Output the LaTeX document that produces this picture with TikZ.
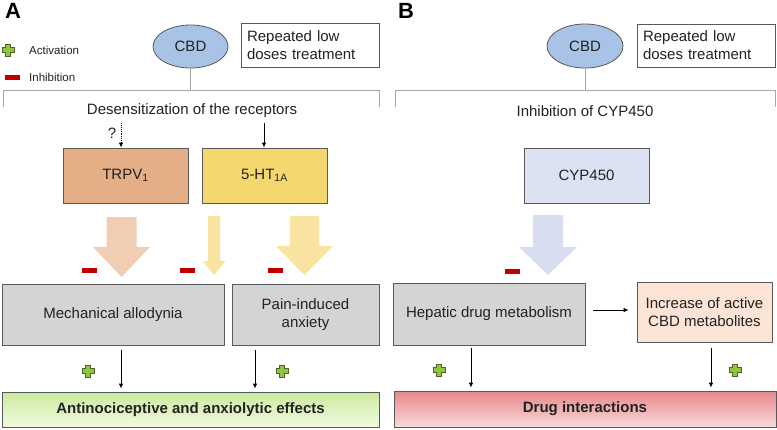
\documentclass[tikz,border=0pt]{standalone}
\usepackage{fontspec}
\setmainfont{Liberation Sans}
\usetikzlibrary{arrows.meta,shapes.geometric}
\definecolor{txt}{HTML}{222222}
\definecolor{bordc}{HTML}{595959}
\definecolor{brkc}{HTML}{A6A6A6}
\definecolor{cbdc}{HTML}{A9C3E6}
\definecolor{trpvc}{HTML}{E4AE86}
\definecolor{htc}{HTML}{F5D76F}
\definecolor{cypc}{HTML}{DCE2F1}
\definecolor{grayc}{HTML}{D4D4D4}
\definecolor{incc}{HTML}{FBE4D5}
\definecolor{trpvarr}{HTML}{F0CDB3}
\definecolor{htarr}{HTML}{F8E3A1}
\definecolor{cyparr}{HTML}{D8DEF0}
\definecolor{minusc}{HTML}{C00000}
\definecolor{plusc}{HTML}{8DC63F}
\definecolor{plusb}{HTML}{4F6228}
\definecolor{greentop}{HTML}{CBEA9E}
\definecolor{greenbot}{HTML}{F0F9E1}
\definecolor{redtop}{HTML}{E8878A}
\definecolor{redbot}{HTML}{F7D9D9}
\tikzset{
  base/.style={font=\fontsize{15}{18}\selectfont, text=txt, inner sep=0pt},
  box/.style={base, draw=bordc, line width=0.8pt, rectangle, align=center},
  oval/.style={base, ellipse, draw=bordc, line width=0.8pt, fill=cbdc},
  notebox/.style={base, draw=bordc, line width=0.8pt, rectangle, align=left, text width=126pt, inner xsep=6pt},
  lbl/.style={base},
  panel/.style={font=\fontsize{22}{24}\selectfont\bfseries, text=black, inner sep=0pt},
  legend/.style={font=\fontsize{11.5}{13}\selectfont, text=txt, inner sep=0pt, anchor=west},
  brk/.style={draw=brkc, line width=0.8pt},
  arr/.style={draw=black, line width=0.9pt, -{Latex[length=5pt,width=4.5pt]}},
  dotarr/.style={draw=black, line width=0.9pt, densely dotted, -{Latex[length=5pt,width=4.5pt]}},
  minussign/.style={fill=minusc},
  pics/plussign/.style={code={
    \filldraw[fill=plusc, draw=plusb, line width=0.7pt]
      (-2.3,-6) -- (2.3,-6) -- (2.3,-2.3) -- (6,-2.3) -- (6,2.3) -- (2.3,2.3) -- (2.3,6)
      -- (-2.3,6) -- (-2.3,2.3) -- (-6,2.3) -- (-6,-2.3) -- (-2.3,-2.3) -- cycle;}},
}
\begin{document}
\begin{tikzpicture}[x=1pt,y=-1pt]
\useasboundingbox (0,0) rectangle (777,429);

% ---------- Panel A ----------
\node[panel] (pa) at (13,11) {A};
\pic at (8,50) {plussign};
\node[legend] (act) at (29,50) {Activation};
\fill[minussign] (5,75) rectangle (20,80);
\node[legend] (inh) at (29,77) {Inhibition};

\node[oval, minimum width=75pt, minimum height=43pt] (cbdA) at (190.5,46.5) {CBD};
\node[notebox, minimum height=44pt] (repA) at (310,45) {Repeated low\\doses treatment};
\coordinate (brkA) at (190.5,90);
\draw[brk] (cbdA.south) -- (brkA);
\draw[brk] (3,107) -- (3,90) -- (379,90) -- (379,107);
\node[lbl] (desA) at (192,111) {Desensitization of the receptors};

\node[box, fill=trpvc, minimum width=125pt, minimum height=55pt] (trpv) at (125.5,175.5) {TRPV\textsubscript{1}};
\node[box, fill=htc, minimum width=125pt, minimum height=55pt] (ht) at (264.5,175.5) {5-HT\textsubscript{1A}};

\coordinate (qs) at (121,123);
\draw[dotarr] (qs) -- (qs |- trpv.north);
\node[lbl] (q) at (112,133) {?};
\coordinate (hs) at (264,123);
\draw[arr] (hs) -- (hs |- ht.north);

% block arrows
\fill[trpvarr] (106.5,217) -- (136.5,217) -- (136.5,247) -- (150,247) -- (121.5,277) -- (93,247) -- (106.5,247) -- cycle;
\fill[htarr] (208,216) -- (220,216) -- (220,261) -- (225.5,261) -- (214,275) -- (202.5,261) -- (208,261) -- cycle;
\fill[htarr] (290,216) -- (319,216) -- (319,246) -- (333,246) -- (304.5,275) -- (276,246) -- (290,246) -- cycle;

\fill[minussign] (82,268) rectangle (97,273);
\fill[minussign] (180,268) rectangle (195,273);
\fill[minussign] (268,268) rectangle (283,273);

\node[box, fill=grayc, minimum width=222pt, minimum height=61pt] (mech) at (113,314.5) {Mechanical allodynia};
\node[box, fill=grayc, minimum width=147pt, minimum height=61pt] (pain) at (305.5,314.5) {Pain-induced\\anxiety};

\node[box, draw=bordc, top color=greentop, bottom color=greenbot, minimum width=377pt, minimum height=35pt, font=\fontsize{15}{18}\selectfont\bfseries] (effA) at (190.5,409.5) {Antinociceptive and anxiolytic effects};

\coordinate (m1) at (121,345);
\draw[arr, shorten <=5pt, shorten >=3pt] (m1) -- (m1 |- effA.north);
\coordinate (m2) at (255,345);
\draw[arr, shorten <=5pt, shorten >=3pt] (m2) -- (m2 |- effA.north);
\pic at (88,371) {plussign};
\pic at (282,371) {plussign};

% ---------- Panel B ----------
\node[panel] (pb) at (406,11) {B};
\node[oval, minimum width=76pt, minimum height=44pt] (cbdB) at (585,46) {CBD};
\node[notebox, minimum height=43pt] (repB) at (706,45.5) {Repeated low\\doses treatment};
\coordinate (brkB) at (585,90);
\draw[brk] (cbdB.south) -- (brkB);
\draw[brk] (395,107) -- (395,90) -- (775,90) -- (775,107);
\node[lbl] (inhB) at (585,111) {Inhibition of CYP450};

\node[box, fill=cypc, minimum width=125pt, minimum height=55pt] (cyp) at (586.5,175.5) {CYP450};
\fill[cyparr] (533,215) -- (563,215) -- (563,247) -- (577,247) -- (548,275) -- (519,247) -- (533,247) -- cycle;
\fill[minussign] (505,269) rectangle (520,274);

\node[box, fill=grayc, minimum width=192pt, minimum height=62pt] (hep) at (489,314) {Hepatic drug metabolism};
\node[box, fill=incc, minimum width=135pt, minimum height=60pt] (inc) at (704.5,312) {Increase of active\\CBD metabolites};
\draw[arr, line width=0.7pt, shorten <=8pt, shorten >=8pt] (hep.east |- 0,310) -- (inc.west |- 0,310);

\node[box, draw=bordc, top color=redtop, bottom color=redbot, minimum width=382pt, minimum height=36pt, font=\fontsize{15}{18}\selectfont\bfseries] (drug) at (585,409) {Drug interactions};

\coordinate (h1) at (471,345);
\draw[arr, shorten <=3pt, shorten >=3pt] (h1) -- (h1 |- drug.north);
\coordinate (i1) at (711,342);
\draw[arr, shorten <=6pt, shorten >=3pt] (i1) -- (i1 |- drug.north);
\pic at (439,370) {plussign};
\pic at (735,370) {plussign};
\end{tikzpicture}
\end{document}
